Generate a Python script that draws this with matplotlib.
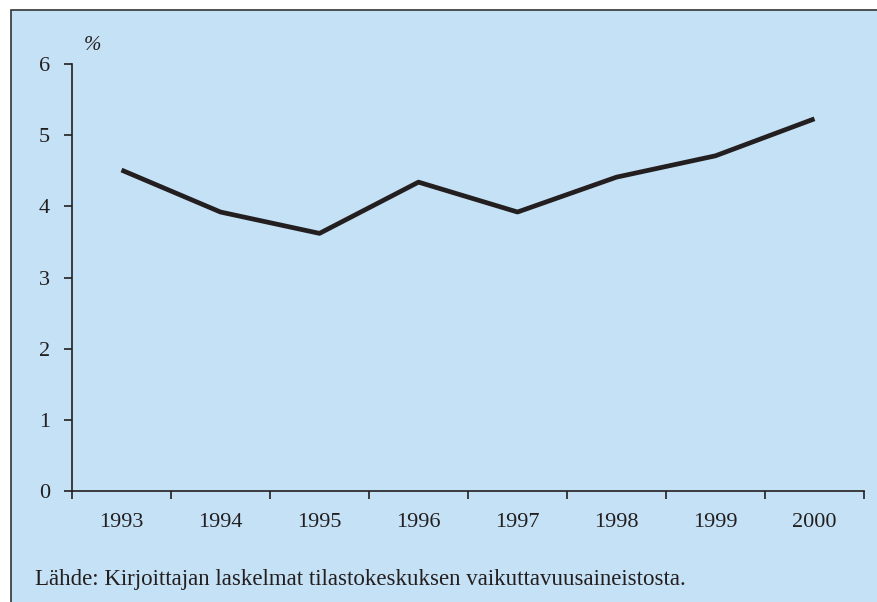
import matplotlib.pyplot as plt
from matplotlib.patches import Rectangle

years = ["1993", "1994", "1995", "1996", "1997", "1998", "1999", "2000"]
values = [4.51, 3.92, 3.62, 4.34, 3.92, 4.41, 4.71, 5.23]
y_ticks = [0, 1, 2, 3, 4, 5, 6]
source = "Lähde: Kirjoittajan laskelmat tilastokeskuksen vaikuttavuusaineistosta."

W, H = 877, 602
bg = "#C5E1F5"
ink = "#231F20"

plt.rcParams["font.family"] = ["Liberation Serif", "DejaVu Serif"]

fig = plt.figure(figsize=(W / 100, H / 100), dpi=100)
fig.patch.set_facecolor("white")
frame = Rectangle((11 / W, -0.05), 1.0, (H - 10) / H + 0.05,
                  transform=fig.transFigure, facecolor=bg,
                  edgecolor="#333333", linewidth=1.2, zorder=-10)
fig.patches.append(frame)

ax = fig.add_axes([72 / W, (H - 491) / H, (864 - 72) / W, (491 - 64) / H])
ax.set_zorder(5)
ax.set_facecolor("none")

x = [i + 0.5 for i in range(len(years))]
ax.plot(x, values, color=ink, linewidth=3.4, solid_capstyle="butt", solid_joinstyle="round")

ax.set_xlim(0, len(years))
ax.set_ylim(0, 6)
ax.set_xticks(range(len(years) + 1))
ax.set_xticklabels([])
ax.set_xticks(x, minor=True)
ax.set_xticklabels(years, minor=True)
ax.tick_params(axis="x", which="major", length=6, width=1.2, color=ink, direction="out")
ax.tick_params(axis="x", which="minor", length=0, pad=16, labelsize=16, labelcolor=ink)
ax.set_yticks(y_ticks)
ax.tick_params(axis="y", length=6, width=1.2, color=ink, direction="out", pad=10,
               labelsize=16, labelcolor=ink)

for side in ["top", "right"]:
    ax.spines[side].set_visible(False)
for side in ["left", "bottom"]:
    ax.spines[side].set_color(ink)
    ax.spines[side].set_linewidth(1.2)

fig.text(84 / W, 1 - 45 / H, "%", fontsize=15, style="italic", color=ink, va="center")
fig.text(35 / W, 1 - 580 / H, source, fontsize=16.5, color=ink, va="center")

fig.savefig("out.png", dpi=100, facecolor=fig.get_facecolor())
